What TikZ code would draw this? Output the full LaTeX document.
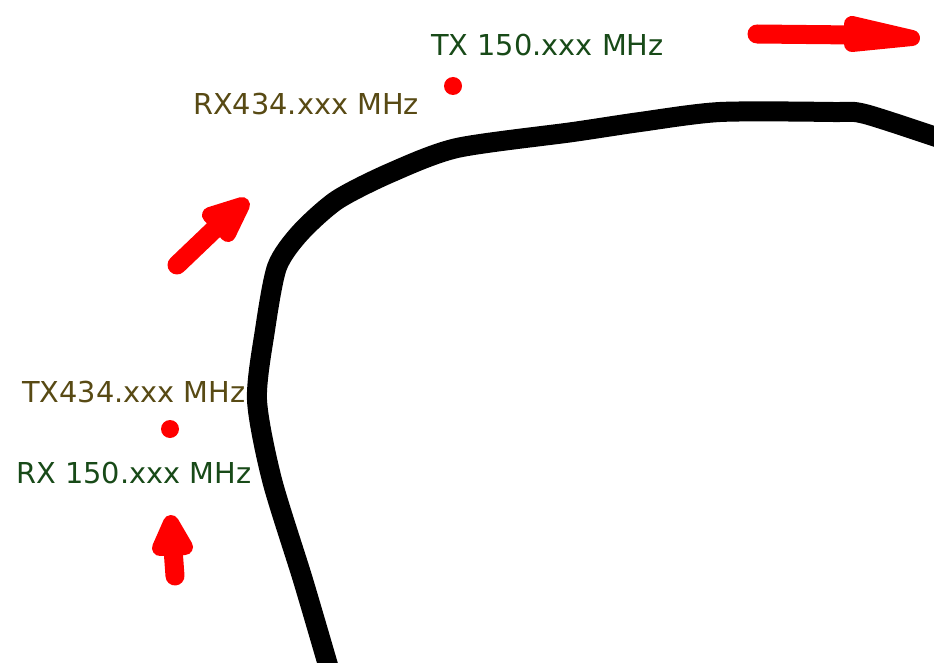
\documentclass[tikz,border=0pt]{standalone}
\usepackage{fontspec}
\setmainfont{DejaVu Sans}
\definecolor{Bandgreen}{RGB}{24,74,24}
\definecolor{Bandolive}{RGB}{88,74,20}
\definecolor{Markred}{RGB}{255,0,0}

\begin{document}
\begin{tikzpicture}
[
x=1pt, y=-1pt,
Road/.style={draw=black, line width=20pt, line cap=round, line join=round},
Shaft/.style={draw=Markred, line width=19pt, line cap=round},
Head/.style={fill=Markred, draw=Markred, line width=16pt, line join=round},
Dot/.style={fill=Markred},
Greentext/.style={anchor=base west, inner sep=0pt, text=Bandgreen, font=\fontsize{28.8}{34}\selectfont},
Olivetext/.style={anchor=base west, inner sep=0pt, text=Bandolive, font=\fontsize{28.8}{34}\selectfont}
]

\useasboundingbox (0,0) rectangle (934,663);

% road edge
\draw[Road] plot[smooth, tension=0.45] coordinates {(330,672) (303,580) (272,480) (257,400) (265,330) (277,267) (300,233) (337,200) (390,173) (457,148) (573,132) (640,122) (720,112) (833,112) (865,114) (945,140)};

% markers
\fill[Dot] (453,86) circle (9);
\fill[Dot] (170,429) circle (9);

% arrows
\draw[Shaft] (175,576) -- (172,535);
\filldraw[Head] (171,523) -- (160,548) -- (185,547) -- cycle;

\draw[Shaft] (177,265) -- (222,222);
\filldraw[Head] (242,205) -- (210,215) -- (228,234) -- cycle;

\draw[Shaft] (757,34) -- (855,35);
\filldraw[Head] (852,24) -- (912,38) -- (852,44) -- cycle;

% labels
\node[Greentext] (tx150) at (431,56) {TX 150.xxx MHz};
\node[Olivetext] (rx434) at (193,115) {RX434.xxx MHz};
\node[Olivetext] (tx434) at (22,402) {TX434.xxx MHz};
\node[Greentext] (rx150) at (16,483) {RX 150.xxx MHz};
\end{tikzpicture}
\end{document}
